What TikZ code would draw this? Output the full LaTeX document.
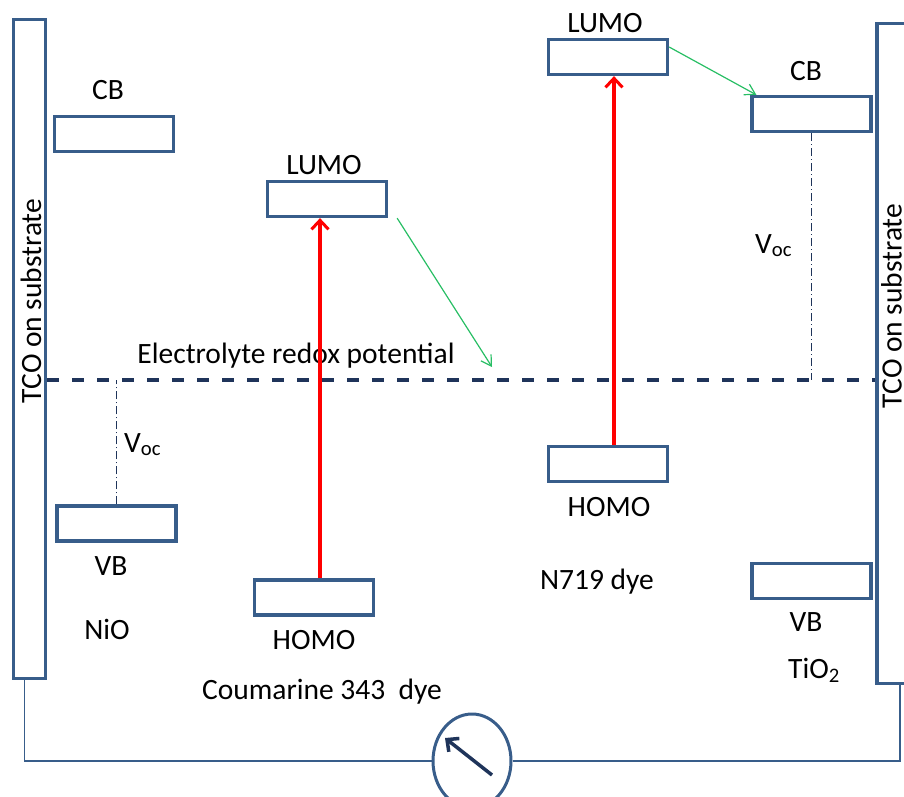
\documentclass[tikz,border=0pt]{standalone}
\usepackage{fontspec}
\setmainfont{Carlito}
\usepackage{tikz}
\usetikzlibrary{arrows.meta, positioning, shapes.geometric}
\definecolor{cnavy}{RGB}{56, 93, 138}
\definecolor{cdark}{RGB}{31, 52, 90}
\definecolor{cgreen}{RGB}{40, 190, 100}
\definecolor{cred}{RGB}{255, 0, 0}

\begin{document}
\begin{tikzpicture}[
  x=1pt, y=-1pt,
  font=\fontsize{29.5}{33}\selectfont,
  level/.style={rectangle, draw=cnavy, line width=3.3pt, minimum width=119pt, minimum height=35pt, inner sep=0pt},
  tco/.style={rectangle, draw=cnavy, line width=3.3pt, minimum width=32pt, inner sep=0pt},
  excite/.style={-{Straight Barb[length=9pt, width=17pt, line width=3pt]}, line width=4pt, color=cred},
  transfer/.style={-{Straight Barb[length=10pt, width=12pt]}, line width=1.2pt, color=cgreen},
  vocline/.style={dash pattern=on 8pt off 3pt on 1pt off 3pt, line width=1pt, color=cdark},
  redoxline/.style={dash pattern=on 12pt off 13pt, line width=3.5pt, color=cdark},
  wire/.style={line width=1.5pt, color=cnavy},
  needle/.style={-{Straight Barb[length=9pt, width=17pt]}, line width=3.5pt, color=cdark},
  lbl/.style={anchor=base, inner sep=0pt},
]
\useasboundingbox (0,0) rectangle (904,797);

% ---- TCO electrodes ----
\node[tco, minimum height=659pt] (tcoL) at (29.5,349) {};
\node[tco, minimum height=660pt] (tcoR) at (893,353.5) {};
\node[rotate=90, inner sep=0pt] (tcoLtext) at (31,301) {TCO on substrate};
\node[rotate=90, inner sep=0pt] (tcoRtext) at (891.5,306) {TCO on substrate};

% ---- NiO (left) ----
\node[level] (cbL) at (114,134) {};
\node[level] (vbL) at (116.5,523.5) {};
\node[lbl] (cbLlabel) at (108,100) {CB};
\node[lbl] (vbLlabel) at (111,575) {VB};
\node[lbl] (nio) at (107,639) {NiO};

% ---- Coumarine 343 dye ----
\node[level] (lumoC) at (327,199) {};
\node[level] (homoC) at (314,597.5) {};
\node[lbl] (lumoClabel) at (324,174) {LUMO};
\node[lbl] (homoClabel) at (314,649) {HOMO};
\node[lbl] (coumarine) at (322,699) {Coumarine 343~~dye};

% ---- N719 dye ----
\node[level] (lumoN) at (608,57) {};
\node[level] (homoN) at (608,464) {};
\node[lbl] (lumoNlabel) at (605,33) {LUMO};
\node[lbl] (homoNlabel) at (609,516) {HOMO};
\node[lbl] (n719) at (597,589) {N719 dye};

% ---- TiO2 (right) ----
\node[level] (cbR) at (811.5,114) {};
\node[level] (vbR) at (811.5,581) {};
\node[lbl] (cbRlabel) at (806,81) {CB};
\node[lbl] (vbRlabel) at (806,631) {VB};
\node[lbl] (tio) at (814,678) {TiO\textsubscript{2}};

% ---- Electrolyte redox potential ----
\coordinate (redox) at (300,380);
\draw[redoxline] (redox -| tcoL.east) -- (redox -| tcoR.west);
\node[lbl] (redoxlabel) at (296,363) {Electrolyte redox potential};

% ---- Voc ----
\draw[vocline] (vbL.north) -- (vbL.north |- redox);
\draw[vocline] (cbR.south) -- (cbR.south |- redox);
\node[lbl, anchor=base west] (vocL) at (124,452) {V\textsubscript{oc}};
\node[lbl, anchor=base west] (vocR) at (755,253) {V\textsubscript{oc}};

% ---- Arrows: excitation and transfer ----
\draw[excite] ([xshift=6pt]homoC.north) -- ([xshift=6pt]homoC.north |- lumoC.south);
\draw[excite] ([xshift=6pt]homoN.north) -- ([xshift=6pt]lumoN.south);
\coordinate (redoxhit) at (492,367);
\draw[transfer] ([xshift=9pt]lumoC.south east) -- (redoxhit);
\draw[transfer] ([yshift=10pt]lumoN.east) -- ([xshift=6pt]cbR.north west);

% ---- External circuit ----
\node[ellipse, draw=cnavy, line width=3pt, minimum width=78pt, minimum height=94pt, inner sep=0pt] (meter) at (472,761) {};
\draw[wire] ([xshift=-5pt]tcoL.south) |- (meter.west);
\draw[wire] (meter.east) -| ([xshift=7pt]tcoR.south);
\draw[needle] ([shift={(20,14)}]meter.center) -- ([shift={(-27,-23)}]meter.center);

\end{tikzpicture}
\end{document}
